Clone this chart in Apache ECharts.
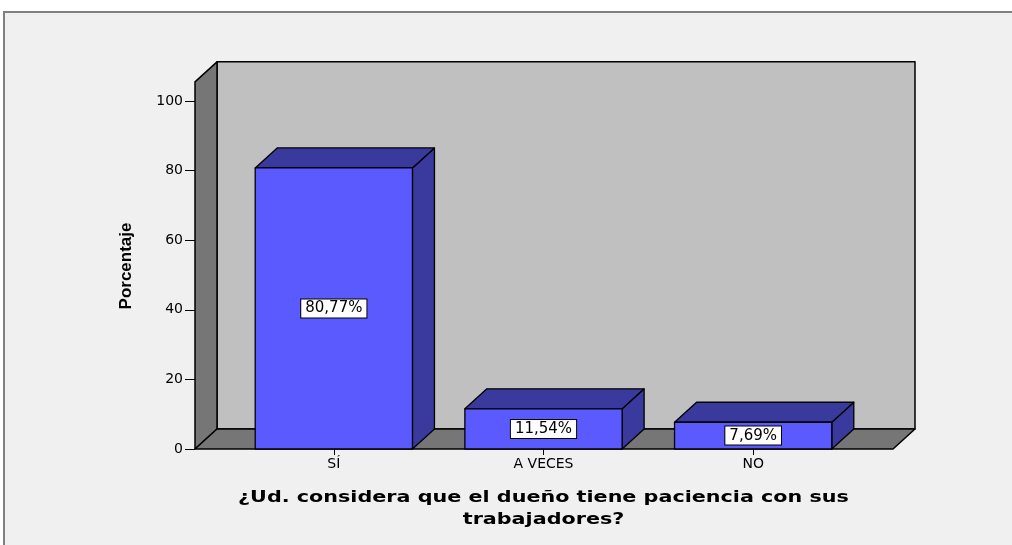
<!DOCTYPE html>
<html>
<head>
<meta charset="utf-8">
<script src="https://cdn.jsdelivr.net/npm/echarts@6/dist/echarts.min.js"></script>
<style>
html,body{margin:0;padding:0;background:#ffffff;}
#chart{width:1012px;height:545px;}
</style>
</head>
<body>
<div id="chart"></div>
<script>
// ---- data ----
const categories = ['SÍ', 'A VECES', 'NO'];
const percentages = [80.77, 11.54, 7.69];
const valueLabels = ['80,77%', '11,54%', '7,69%'];
const yTickValues = [0, 20, 40, 60, 80, 100];
const xAxisTitle = '¿Ud. considera que el dueño tiene paciencia con sus\ntrabajadores?';
const yAxisTitle = 'Porcentaje';

// ---- style / layout constants ----
const DEPTH_X = 22, DEPTH_Y = -20;
const WALL_TOP_VALUE = 105.5;
const FRONT_LEFT_EXT = 34, FRONT_RIGHT_EXT = 35;

const chart = echarts.init(document.getElementById('chart'), null, {renderer: 'canvas'});

function wallsRender(params, api) {
  const cs = params.coordSys;
  const x0 = cs.x - FRONT_LEFT_EXT;
  const x1 = cs.x + cs.width + FRONT_RIGHT_EXT;
  const y0 = api.coord([0, 0])[1];
  const yt = api.coord([0, WALL_TOP_VALUE])[1];
  const stroke = {stroke: '#000', lineWidth: 1.5, lineJoin: 'round'};
  return {
    type: 'group',
    children: [
      {type: 'polygon', shape: {points: [[x0 + DEPTH_X, yt + DEPTH_Y], [x1 + DEPTH_X, yt + DEPTH_Y], [x1 + DEPTH_X, y0 + DEPTH_Y], [x0 + DEPTH_X, y0 + DEPTH_Y]]},
        style: Object.assign({fill: '#c0c0c0'}, stroke)},
      {type: 'polygon', shape: {points: [[x0, y0], [x0, yt], [x0 + DEPTH_X, yt + DEPTH_Y], [x0 + DEPTH_X, y0 + DEPTH_Y]]},
        style: Object.assign({fill: '#767676'}, stroke)},
      {type: 'polygon', shape: {points: [[x0, y0], [x1, y0], [x1 + DEPTH_X, y0 + DEPTH_Y], [x0 + DEPTH_X, y0 + DEPTH_Y]]},
        style: Object.assign({fill: '#767676'}, stroke)},
      // x-axis title (stretched horizontally like the original export)
      {type: 'text', x: cs.x + cs.width / 2, y: y0 + 38, scaleX: 1.38,
        style: {text: xAxisTitle, fill: '#000', font: 'bold 15px "DejaVu Sans"',
          lineHeight: 22, align: 'center', verticalAlign: 'top'}}
    ]
  };
}

function barRender(params, api) {
  const idx = api.value(0);
  const val = api.value(1);
  const top = api.coord([idx, val]);
  const base = api.coord([idx, 0]);
  const bw = api.size([1, 0])[0] * 0.75;
  const xl = top[0] - bw / 2, xr = top[0] + bw / 2;
  const yt = top[1], yb = base[1];
  const st = {stroke: '#000', lineWidth: 1.3, lineJoin: 'round'};
  return {
    type: 'group',
    children: [
      {type: 'polygon', shape: {points: [[xr, yb], [xr, yt], [xr + DEPTH_X, yt + DEPTH_Y], [xr + DEPTH_X, yb + DEPTH_Y]]},
        style: Object.assign({fill: '#3a3a9e'}, st)},
      {type: 'polygon', shape: {points: [[xl, yt], [xr, yt], [xr + DEPTH_X, yt + DEPTH_Y], [xl + DEPTH_X, yt + DEPTH_Y]]},
        style: Object.assign({fill: '#3a3a9e'}, st)},
      {type: 'rect', shape: {x: xl, y: yt, width: bw, height: yb - yt},
        style: Object.assign({fill: '#5a5aff'}, st)},
      {type: 'text', x: top[0], y: (yt + yb) / 2,
        style: {text: valueLabels[params.dataIndex], fill: '#000', font: '15px "DejaVu Sans"',
          align: 'center', verticalAlign: 'middle', backgroundColor: '#fff',
          borderColor: '#000', borderWidth: 1, padding: [2, 4, 1, 4]}}
    ]
  };
}

const option = {
  backgroundColor: '#ffffff',
  animation: false,
  graphic: [{
    type: 'rect', z: -10, silent: true,
    shape: {x: 4, y: 12, width: 1100, height: 600},
    style: {fill: '#f0f0f0', stroke: '#808080', lineWidth: 2}
  }],
  grid: {left: 229, right: 154, top: 101, bottom: 96, containLabel: false},
  xAxis: {
    type: 'category',
    data: categories,
    axisLine: {show: false},
    axisTick: {show: true, alignWithLabel: true, length: 6, lineStyle: {color: '#000'}},
    axisLabel: {color: '#000', fontFamily: 'DejaVu Sans', fontSize: 14, margin: 8},
    splitLine: {show: false}
  },
  yAxis: {
    type: 'value',
    min: 0, max: 100, interval: 20,
    offset: FRONT_LEFT_EXT,
    axisLine: {show: false},
    axisTick: {show: true, length: 10, lineStyle: {color: '#000'}},
    axisLabel: {color: '#000', fontFamily: 'DejaVu Sans', fontSize: 14, margin: 12,
      customValues: yTickValues},
    splitLine: {show: false},
    name: yAxisTitle,
    nameLocation: 'middle',
    nameGap: 60,
    nameRotate: 90,
    nameTextStyle: {color: '#000', fontFamily: 'Liberation Sans', fontWeight: 'bold', fontSize: 17,
      padding: [0, 0, 0, 18]}
  },
  series: [
    {type: 'custom', z: 1, renderItem: wallsRender, data: [[0, 0]], silent: true, clip: false},
    {type: 'custom', z: 2, renderItem: barRender, data: percentages.map((v, i) => [i, v]), clip: false}
  ]
};
chart.setOption(option);
</script>
</body>
</html>
